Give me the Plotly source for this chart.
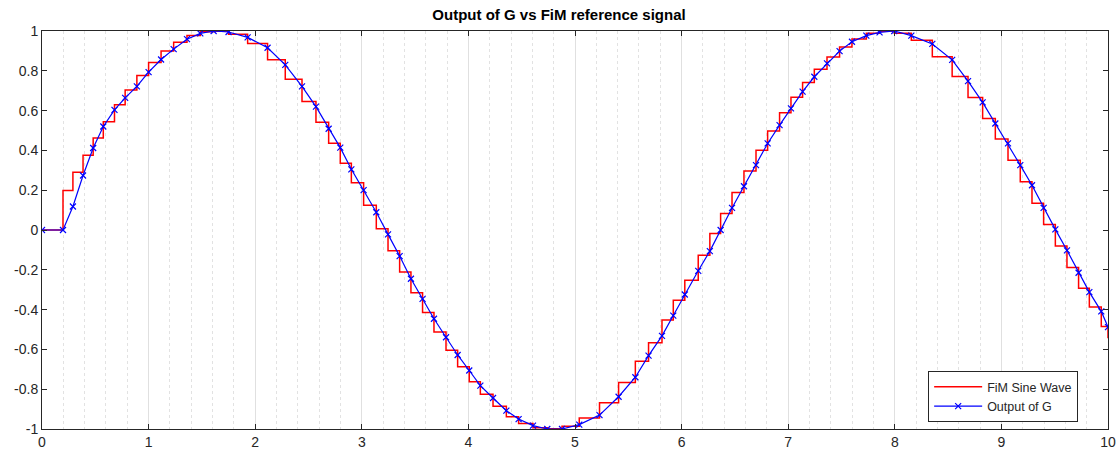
import plotly.graph_objects as go

# sample times (variable step)
t = [0, 0.197, 0.29, 0.385, 0.48, 0.575, 0.68, 0.78, 0.89, 1.0, 1.117, 1.235, 1.36, 1.485,
     1.61, 1.75, 1.929, 2.116, 2.282, 2.439, 2.57, 2.689, 2.798, 2.902, 3.017, 3.136, 3.246,
     3.355, 3.461, 3.57, 3.677, 3.79, 3.899, 4.008, 4.112, 4.231, 4.356, 4.471, 4.606, 4.74,
     4.878, 5.04, 5.23, 5.409, 5.566, 5.69, 5.816, 5.922, 6.03, 6.156, 6.265, 6.366, 6.473,
     6.585, 6.698, 6.807, 6.919, 7.026, 7.135, 7.245, 7.364, 7.482, 7.598, 7.733, 7.857,
     7.995, 8.155, 8.352, 8.538, 8.687, 8.824, 8.943, 9.062, 9.177, 9.287, 9.396, 9.506,
     9.615, 9.724, 9.825, 9.937, 10.0]

# FiM sine wave (held values)
fim = [0, 0.198, 0.29, 0.376, 0.462, 0.544, 0.629, 0.703, 0.777, 0.842, 0.899, 0.944, 0.978,
       0.996, 0.999, 0.984, 0.937, 0.855, 0.757, 0.646, 0.541, 0.436, 0.336, 0.237, 0.124,
       0.006, -0.104, -0.211, -0.315, -0.415, -0.512, -0.604, -0.687, -0.762, -0.825, -0.886,
       -0.939, -0.972, -0.994, -0.999, -0.986, -0.945, -0.868, -0.766, -0.659, -0.566, -0.452,
       -0.353, -0.252, -0.127, -0.018, 0.083, 0.189, 0.296, 0.401, 0.497, 0.589, 0.667, 0.741,
       0.808, 0.869, 0.92, 0.96, 0.989, 0.999, 0.989, 0.954, 0.871, 0.771, 0.666, 0.56, 0.457,
       0.35, 0.242, 0.135, 0.028, -0.081, -0.189, -0.293, -0.387, -0.485, -0.544]

# output of G
g_out = [0, 0, 0.118, 0.274, 0.412, 0.52, 0.604, 0.664, 0.722, 0.793, 0.857, 0.909, 0.959,
         0.988, 1.0, 0.995, 0.968, 0.916, 0.83, 0.722, 0.62, 0.509, 0.414, 0.305, 0.2, 0.089,
         -0.022, -0.131, -0.245, -0.346, -0.446, -0.539, -0.628, -0.706, -0.782, -0.844,
         -0.908, -0.95, -0.983, -1.0, -1.0, -0.978, -0.93, -0.838, -0.74, -0.631, -0.532,
         -0.43, -0.324, -0.205, -0.106, 0.0, 0.111, 0.22, 0.326, 0.435, 0.527, 0.611, 0.695,
         0.77, 0.837, 0.899, 0.946, 0.977, 0.993, 1.0, 0.977, 0.935, 0.855, 0.748, 0.641,
         0.535, 0.435, 0.326, 0.225, 0.111, 0.003, -0.102, -0.215, -0.312, -0.409, -0.488]

y_ticks = [-1, -0.8, -0.6, -0.4, -0.2, 0, 0.2, 0.4, 0.6, 0.8, 1]
y_labels = ['-1', '-0.8', '-0.6', '-0.4', '-0.2', '0', '0.2', '0.4', '0.6', '0.8', '1']

fig = go.Figure()
fig.add_trace(go.Scatter(x=t, y=fim, mode='lines', name='FiM Sine Wave',
                         line=dict(color='#ff0000', width=1.5, shape='hv')))
fig.add_trace(go.Scatter(x=t, y=g_out, mode='lines+markers', name='Output of G',
                         line=dict(color='#0000ff', width=1.2),
                         marker=dict(symbol='x-thin', size=6, color='#0000ff',
                                     line=dict(color='#0000ff', width=1.2))))

axis_col = '#262626'
fig.update_layout(
    width=1118, height=455,
    margin=dict(l=42, r=10, t=31, b=26, autoexpand=False),
    paper_bgcolor='white', plot_bgcolor='white',
    font=dict(family='Liberation Sans, Arial, sans-serif', size=14, color=axis_col),
    title=dict(text='<b>Output of G vs FiM reference signal</b>', x=0.5, xanchor='center',
               y=0.968, yanchor='middle', font=dict(size=15, color='black')),
    showlegend=True,
    legend=dict(x=0.972, y=0.017, xanchor='right', yanchor='bottom',
                bgcolor='white', bordercolor=axis_col, borderwidth=1,
                font=dict(size=12.5, color=axis_col), tracegroupgap=0, itemwidth=48),
)
fig.update_xaxes(range=[0, 10], dtick=1, tick0=0, ticks='inside', ticklen=5,
                 tickcolor=axis_col, showline=True, linecolor=axis_col, linewidth=1,
                 mirror='ticks', showgrid=True, gridcolor='#e0e0e0', gridwidth=1,
                 zeroline=False, automargin=False,
                 minor=dict(dtick=0.2, tick0=0, showgrid=True, gridcolor='#e2e2e2',
                            griddash='dot', ticks=''))
fig.update_yaxes(range=[-1, 1], tickvals=y_ticks, ticktext=y_labels, ticks='inside',
                 ticklen=5, tickcolor=axis_col, showline=True, linecolor=axis_col,
                 linewidth=1, mirror='ticks', showgrid=False, zeroline=False,
                 automargin=False)

# page body has a default margin; drop it so the figure sits at the window corner
fig.write_html("out.html", config={'displayModeBar': False},
               post_script="document.body.style.margin='0';document.body.style.overflow='hidden';")
